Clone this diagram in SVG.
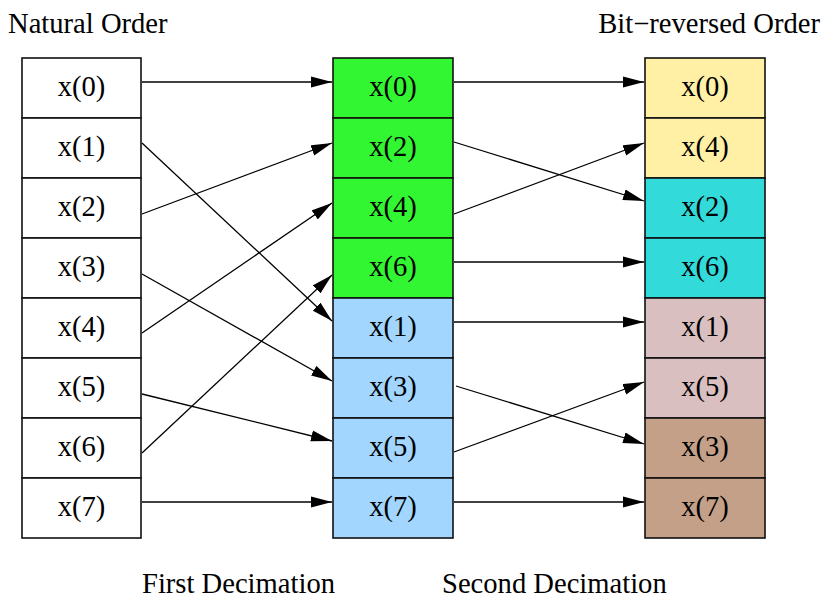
<svg xmlns="http://www.w3.org/2000/svg" width="822" height="599" viewBox="0 0 822 599">
<style>
text{font-family:"Liberation Serif","Times New Roman",serif;font-size:28.6px;fill:#000}
.c{text-anchor:middle}
.cell{stroke:#111;stroke-width:1.6}
.e{stroke:#000;stroke-width:1.3;fill:none;marker-end:url(#ah)}
.w{fill:#fff}.g{fill:#33f633}.b{fill:#a2d6ff}.y{fill:#fff0a6}.t{fill:#33dada}.p{fill:#d9bfbf}.r{fill:#c4a089}
</style>
<defs>
<marker id="ah" markerUnits="userSpaceOnUse" markerWidth="22" markerHeight="12" refX="21" refY="5.5" orient="auto" viewBox="0 0 22 11">
<path d="M0,0 L21,5.5 L0,11 z" fill="#000"/>
</marker>
</defs>
<rect width="822" height="599" fill="#fff"/>
<text x="8" y="33">Natural Order</text>
<text x="820" y="33" text-anchor="end">Bit−reversed Order</text>
<text x="142" y="593">First Decimation</text>
<text x="442" y="593">Second Decimation</text>

<g id="natural">
<rect class="cell w" x="22" y="58" width="119" height="60"/><text class="c" x="81.5" y="96">x(0)</text>
<rect class="cell w" x="22" y="118" width="119" height="60"/><text class="c" x="81.5" y="156">x(1)</text>
<rect class="cell w" x="22" y="178" width="119" height="60"/><text class="c" x="81.5" y="216">x(2)</text>
<rect class="cell w" x="22" y="238" width="119" height="60"/><text class="c" x="81.5" y="276">x(3)</text>
<rect class="cell w" x="22" y="298" width="119" height="60"/><text class="c" x="81.5" y="336">x(4)</text>
<rect class="cell w" x="22" y="358" width="119" height="60"/><text class="c" x="81.5" y="396">x(5)</text>
<rect class="cell w" x="22" y="418" width="119" height="60"/><text class="c" x="81.5" y="456">x(6)</text>
<rect class="cell w" x="22" y="478" width="119" height="60"/><text class="c" x="81.5" y="516">x(7)</text>
</g>

<g id="first">
<rect class="cell g" x="333" y="58" width="120" height="60"/><text class="c" x="393" y="96">x(0)</text>
<rect class="cell g" x="333" y="118" width="120" height="60"/><text class="c" x="393" y="156">x(2)</text>
<rect class="cell g" x="333" y="178" width="120" height="60"/><text class="c" x="393" y="216">x(4)</text>
<rect class="cell g" x="333" y="238" width="120" height="60"/><text class="c" x="393" y="276">x(6)</text>
<rect class="cell b" x="333" y="298" width="120" height="60"/><text class="c" x="393" y="336">x(1)</text>
<rect class="cell b" x="333" y="358" width="120" height="60"/><text class="c" x="393" y="396">x(3)</text>
<rect class="cell b" x="333" y="418" width="120" height="60"/><text class="c" x="393" y="456">x(5)</text>
<rect class="cell b" x="333" y="478" width="120" height="60"/><text class="c" x="393" y="516">x(7)</text>
</g>

<g id="bitrev">
<rect class="cell y" x="645" y="58" width="120" height="60"/><text class="c" x="705" y="96">x(0)</text>
<rect class="cell y" x="645" y="118" width="120" height="60"/><text class="c" x="705" y="156">x(4)</text>
<rect class="cell t" x="645" y="178" width="120" height="60"/><text class="c" x="705" y="216">x(2)</text>
<rect class="cell t" x="645" y="238" width="120" height="60"/><text class="c" x="705" y="276">x(6)</text>
<rect class="cell p" x="645" y="298" width="120" height="60"/><text class="c" x="705" y="336">x(1)</text>
<rect class="cell p" x="645" y="358" width="120" height="60"/><text class="c" x="705" y="396">x(5)</text>
<rect class="cell r" x="645" y="418" width="120" height="60"/><text class="c" x="705" y="456">x(3)</text>
<rect class="cell r" x="645" y="478" width="120" height="60"/><text class="c" x="705" y="516">x(7)</text>
</g>

<g id="connectors">
<line class="e" x1="142" y1="82" x2="332" y2="82"/>
<line class="e" x1="142" y1="143" x2="332" y2="321"/>
<line class="e" x1="142" y1="214" x2="332" y2="143"/>
<line class="e" x1="142" y1="274" x2="332" y2="381"/>
<line class="e" x1="142" y1="333" x2="332" y2="203"/>
<line class="e" x1="142" y1="394" x2="332" y2="441"/>
<line class="e" x1="142" y1="453" x2="332" y2="275"/>
<line class="e" x1="142" y1="502" x2="332" y2="502"/>
<line class="e" x1="454" y1="82" x2="644" y2="82"/>
<line class="e" x1="454" y1="142" x2="644" y2="201"/>
<line class="e" x1="454" y1="214" x2="644" y2="143"/>
<line class="e" x1="454" y1="262" x2="644" y2="262"/>
<line class="e" x1="454" y1="322" x2="644" y2="322"/>
<line class="e" x1="456" y1="386" x2="644" y2="444"/>
<line class="e" x1="454" y1="452" x2="644" y2="382"/>
<line class="e" x1="454" y1="502" x2="644" y2="502"/>
</g>
</svg>
